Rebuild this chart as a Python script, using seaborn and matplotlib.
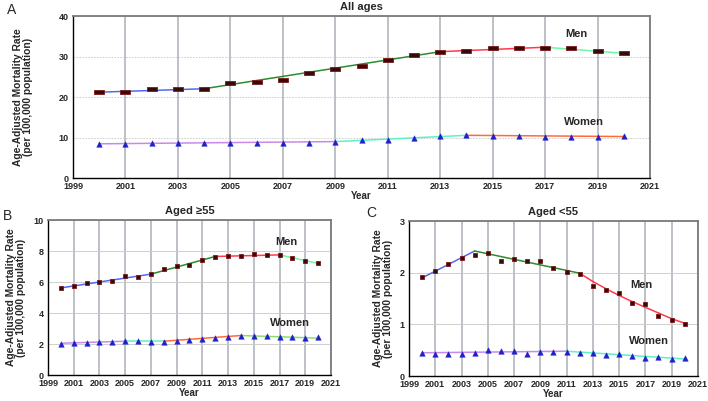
import matplotlib
matplotlib.use("Agg")
import matplotlib.pyplot as plt
import seaborn as sns

sns.set_style("white")
plt.rcParams['font.family'] = ['Liberation Sans', 'DejaVu Sans']
plt.rcParams['font.weight'] = 'bold'

years = list(range(2000, 2021))

# observed rates
a_men = [21.2, 21.3, 21.9, 22.0, 22.0, 23.4, 23.8, 24.1, 25.9, 26.9, 27.6,
         29.1, 30.3, 31.2, 31.4, 32.1, 32.2, 32.2, 32.0, 31.4, 30.9]
a_women = [8.3, 8.4, 8.6, 8.7, 8.7, 8.7, 8.7, 8.6, 8.7, 8.9, 9.3,
           9.5, 9.9, 10.3, 10.6, 10.3, 10.4, 10.2, 10.2, 10.1, 10.3]
b_men = [5.62, 5.73, 5.95, 6.03, 6.06, 6.36, 6.34, 6.49, 6.81, 7.05, 7.13,
         7.39, 7.63, 7.69, 7.67, 7.80, 7.72, 7.72, 7.54, 7.37, 7.20]
b_women = [2.03, 2.07, 2.09, 2.11, 2.16, 2.18, 2.18, 2.16, 2.16, 2.20, 2.26,
           2.31, 2.37, 2.48, 2.54, 2.50, 2.50, 2.46, 2.46, 2.37, 2.44]
c_men = [1.91, 2.04, 2.16, 2.28, 2.35, 2.38, 2.22, 2.26, 2.23, 2.23, 2.09,
         2.02, 1.97, 1.74, 1.67, 1.61, 1.41, 1.40, 1.17, 1.09, 1.01]
c_women = [0.45, 0.43, 0.42, 0.42, 0.45, 0.50, 0.48, 0.48, 0.43, 0.46, 0.46,
           0.47, 0.45, 0.45, 0.40, 0.42, 0.39, 0.35, 0.36, 0.32, 0.34]

# joinpoint fitted lines (knots and segment colours)
BLUE, GREEN, RED, LGREEN = '#5468f0', '#2e8b2e', '#ff3b4a', '#6ff5a8'
VIOLET, AQUA, ORANGE, LIME = '#c88ae8', '#5ef0c8', '#ff6a3a', '#86e070'

a_men_fx = [2000, 2004, 2013, 2017, 2020]
a_men_fy = [21.2, 22.05, 31.2, 32.3, 30.8]
a_men_fc = [BLUE, GREEN, RED, LGREEN]
a_women_fx = [2000, 2009, 2014, 2020]
a_women_fy = [8.45, 9.0, 10.55, 10.25]
a_women_fc = [VIOLET, AQUA, ORANGE]

b_men_fx = [2000, 2007, 2012, 2017, 2020]
b_men_fy = [5.62, 6.51, 7.65, 7.75, 7.2]
b_men_fc = [BLUE, GREEN, RED, LGREEN]
b_women_fx = [2000, 2005, 2008, 2014, 2020]
b_women_fy = [2.05, 2.18, 2.18, 2.55, 2.38]
b_women_fc = [VIOLET, AQUA, ORANGE, LIME]

c_men_fx = [2000, 2004, 2012, 2013, 2014, 2015, 2016, 2017, 2018, 2019, 2020]
c_men_fy = [1.90, 2.42, 1.99, 1.83, 1.69, 1.56, 1.44, 1.33, 1.22, 1.11, 1.02]
c_men_fc = [BLUE, GREEN] + [RED] * 8
c_women_fx = [2000, 2011, 2020]
c_women_fy = [0.45, 0.48, 0.33]
c_women_fc = [VIOLET, AQUA]

xticks = list(range(1999, 2022, 2))
ylabel = "Age-Adjusted Mortality Rate\n(per 100,000 population)"

fig = plt.figure(figsize=(7.08, 4.01), dpi=100)
axA = fig.add_axes([0.1031, 0.556, 0.815, 0.404])
axB = fig.add_axes([0.0678, 0.0648, 0.3997, 0.3865])
axC = fig.add_axes([0.5777, 0.0623, 0.408, 0.3865])

rect = [(-1.7, -0.6), (1.7, -0.6), (1.7, 0.6), (-1.7, 0.6), (-1.7, -0.6)]


def draw(ax, men, women, mfx, mfy, mfc, wfx, wfy, wfc, ymax, ystep, title,
         grid_ls, men_marker, men_size, men_pos, women_pos):
    for i, col in enumerate(mfc):
        sns.lineplot(x=mfx[i:i + 2], y=mfy[i:i + 2], color=col, lw=1.1, ax=ax)
    for i, col in enumerate(wfc):
        sns.lineplot(x=wfx[i:i + 2], y=wfy[i:i + 2], color=col, lw=1.1, ax=ax)
    sns.scatterplot(x=years, y=men, marker=men_marker, s=men_size,
                    color='#3a0808', edgecolor='#7a1a1a', linewidth=0.6,
                    ax=ax, zorder=4)
    sns.scatterplot(x=years, y=women, marker='^', s=16, color='#2020c8',
                    edgecolor='#2020c8', linewidth=0.3, ax=ax, zorder=4)
    ax.set_xlim(1999, 2021)
    ax.set_ylim(0, ymax)
    ax.set_xticks(xticks)
    ax.set_yticks([ystep * k for k in range(int(round(ymax / ystep)) + 1)])
    ax.tick_params(labelsize=6.5, length=0, pad=3)
    for lab in ax.get_xticklabels() + ax.get_yticklabels():
        lab.set_fontweight('bold')
    ax.xaxis.grid(True, color='#a8b0b8', lw=1.1)
    ax.yaxis.grid(True, color='#c8c8c8', lw=0.6, ls=grid_ls)
    ax.set_axisbelow(True)
    for s in ['left', 'bottom']:
        ax.spines[s].set_color('black')
        ax.spines[s].set_linewidth(1.0)
    for s in ['top', 'right']:
        ax.spines[s].set_color('#7a7a7a')
        ax.spines[s].set_linewidth(1.3)
    ax.set_xlabel("Year", fontsize=7, fontweight='bold', labelpad=0)
    ax.set_ylabel(ylabel, fontsize=7.4, fontweight='bold', linespacing=1.0)
    ax.set_title(title, fontsize=8, fontweight='bold', pad=4)
    ax.text(men_pos[0], men_pos[1], "Men", fontsize=8, fontweight='bold',
            ha='center', va='center')
    ax.text(women_pos[0], women_pos[1], "Women", fontsize=8,
            fontweight='bold', ha='center', va='center')


draw(axA, a_men, a_women, a_men_fx, a_men_fy, a_men_fc, a_women_fx,
     a_women_fy, a_women_fc, 40, 10, "All ages", (0, (2, 1.5)), rect, 50,
     (2018.2, 35.6), (2018.5, 13.9))
draw(axB, b_men, b_women, b_men_fx, b_men_fy, b_men_fc, b_women_fx,
     b_women_fy, b_women_fc, 10, 2, "Aged \u226555", '-', 's', 12,
     (2017.5, 8.56), (2017.8, 3.38))
draw(axC, c_men, c_women, c_men_fx, c_men_fy, c_men_fc, c_women_fx,
     c_women_fy, c_women_fc, 3, 1, "Aged <55", '-', 's', 12,
     (2016.7, 1.76), (2017.3, 0.68))

axA.yaxis.set_label_coords(-0.069, 0.5)
axB.yaxis.set_label_coords(-0.078, 0.5)
axC.yaxis.set_label_coords(-0.055, 0.5)

fig.text(0.016, 0.975, "A", fontsize=10, fontweight='normal', ha='center', va='center')
fig.text(0.010, 0.462, "B", fontsize=10, fontweight='normal', ha='center', va='center')
fig.text(0.525, 0.469, "C", fontsize=10, fontweight='normal', ha='center', va='center')

fig.savefig("out.png", dpi=100, facecolor='white')
